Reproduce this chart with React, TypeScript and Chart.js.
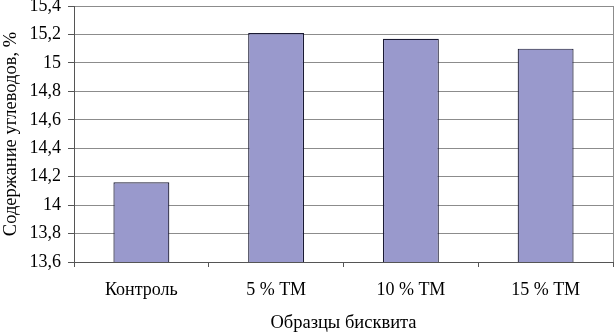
import React, { useEffect, useRef } from "react";
import { Chart, registerables } from "chart.js";

Chart.register(...registerables);

const categories = ["Контроль", "5 % ТМ", "10 % ТМ", "15 % ТМ"];
const carbValues = [14.16, 15.21, 15.17, 15.1];
const yMin = 13.6;
const yMax = 15.4;
const yStep = 0.2;
const xTitle = "Образцы бисквита";
const yTitle = "Содержание углеводов, %";

const FONT = "'Liberation Serif', 'Times New Roman', serif";

const rightBorder = {
  id: "rightBorder",
  afterDraw(chart: any) {
    const { ctx, chartArea } = chart;
    ctx.save();
    ctx.strokeStyle = "#8c8c8c";
    ctx.lineWidth = 1;
    ctx.beginPath();
    ctx.moveTo(Math.round(chartArea.right) + 0.5, chartArea.top);
    ctx.lineTo(Math.round(chartArea.right) + 0.5, chartArea.bottom);
    ctx.stroke();
    ctx.restore();
  },
};

export default function App() {
  const ref = useRef<HTMLCanvasElement>(null);
  useEffect(() => {
    document.body.style.margin = "0";
    const chart = new Chart(ref.current!, {
      type: "bar",
      data: {
        labels: categories,
        datasets: [
          {
            data: carbValues,
            backgroundColor: "#9999cc",
            borderColor: "#1a1a33",
            borderWidth: 1.2,
            barPercentage: 0.415,
            categoryPercentage: 1,
          },
        ],
      },
      options: {
        responsive: false,
        animation: false,
        devicePixelRatio: 1,
        layout: { padding: { top: 6, right: 1, left: 0, bottom: 0 } },
        plugins: { legend: { display: false }, tooltip: { enabled: false } },
        scales: {
          x: {
            grid: {
              offset: true,
              drawOnChartArea: false,
              drawTicks: true,
              tickLength: 5,
              color: "#555",
            },
            border: { color: "#555", width: 1 },
            ticks: {
              font: { family: FONT, size: 18 },
              color: "#000",
              padding: 12,
              maxRotation: 0,
            },
            title: {
              display: true,
              text: xTitle,
              font: { family: FONT, size: 18.5 },
              color: "#000",
              padding: { top: 6, bottom: 0 },
            },
            afterFit(scale: any) {
              scale.height = 72;
              scale.paddingLeft = 0;
              scale.paddingRight = 0;
            },
          },
          y: {
            min: yMin,
            max: yMax,
            grid: {
              color: "#8c8c8c",
              tickColor: "#555",
              tickLength: 6,
              drawTicks: true,
            },
            border: { color: "#555", width: 1 },
            ticks: {
              stepSize: yStep,
              font: { family: FONT, size: 18 },
              color: "#000",
              padding: 7,
              callback: (v: any) =>
                Number(v).toFixed(1).replace(/\.0$/, "").replace(".", ","),
            },
            title: {
              display: true,
              text: yTitle,
              font: { family: FONT, size: 18.5 },
              color: "#000",
              padding: { top: 0, bottom: 3 },
            },
            afterFit(scale: any) {
              scale.width = 74;
              scale.paddingTop = 0;
              scale.paddingBottom = 0;
            },
          },
        },
      },
      plugins: [rightBorder],
    });
    return () => chart.destroy();
  }, []);
  return (
    <div style={{ position: "fixed", left: 0, top: 0, width: 614, height: 334 }}>
      <canvas ref={ref} width={614} height={334} />
    </div>
  );
}
